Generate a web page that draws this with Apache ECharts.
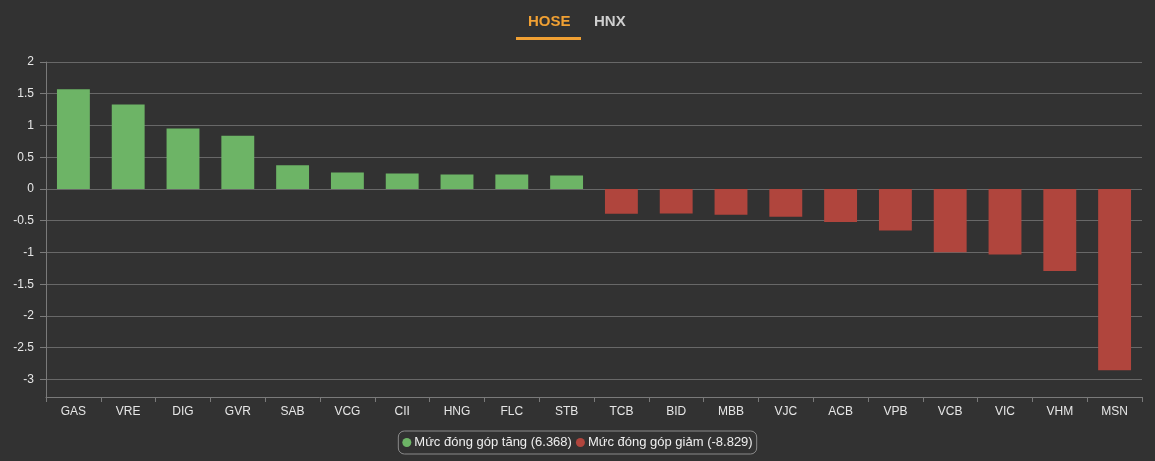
<!DOCTYPE html>
<html>
<head>
<meta charset="utf-8">
<script src="https://cdn.jsdelivr.net/npm/echarts@6/dist/echarts.min.js"></script>
<style>
html,body{margin:0;padding:0;background:#333333;}
#c{width:1155px;height:461px;}
</style>
</head>
<body>
<div id="c"></div>
<script>
var categories = ['GAS','VRE','DIG','GVR','SAB','VCG','CII','HNG','FLC','STB','TCB','BID','MBB','VJC','ACB','VPB','VCB','VIC','VHM','MSN'];
var upValues = [1.572,1.33,0.953,0.837,0.375,0.26,0.244,0.228,0.228,0.213,'-','-','-','-','-','-','-','-','-','-'];
var downValues = ['-','-','-','-','-','-','-','-','-','-',-0.39,-0.387,-0.405,-0.436,-0.52,-0.654,-0.995,-1.03,-1.29,-2.853];
var upName = 'Mức đóng góp tăng (6.368)';
var downName = 'Mức đóng góp giảm (-8.829)';
var tabs = ['HOSE','HNX'];
var yTicks = [2,1.5,1,0.5,0,-0.5,-1,-1.5,-2,-2.5,-3];

var chart = echarts.init(document.getElementById('c'));
var font = 'Liberation Sans, Arial, Helvetica, sans-serif';
chart.setOption({
  backgroundColor: '#323232',
  animation: false,
  textStyle: {fontFamily: font},
  graphic: [
    {type:'text', left: 528, top: 14, style:{text: tabs[0], fill:'#f0a033', font:'bold 15px ' + font}},
    {type:'text', left: 594, top: 14, style:{text: tabs[1], fill:'#cfcfcf', font:'bold 15px ' + font}},
    {type:'rect', left: 516, top: 37, shape:{width:65, height:3}, style:{fill:'#f0a033'}}
  ],
  legend: {
    bottom: 7,
    left: 'center',
    icon: 'circle',
    itemWidth: 9,
    itemHeight: 9,
    itemGap: 4,
    itemStyle: {borderWidth: 0},
    borderColor: '#8a8a8a',
    borderWidth: 1,
    borderRadius: 6,
    padding: [5, 4, 5, 4],
    textStyle: {color: '#eeeeee', fontSize: 13, fontFamily: font, padding: [0, 0, 0, -2]},
    data: [upName, downName]
  },
  grid: {left: 46, right: 13, top: 62, bottom: 64, containLabel: false},
  xAxis: {
    type: 'category',
    data: categories,
    axisLine: {onZero: false, lineStyle: {color: '#7a7a7a', width: 1}},
    axisTick: {show: true, length: 5, lineStyle: {color: '#7a7a7a'}},
    axisLabel: {color: '#e6e6e6', fontSize: 12, margin: 9, fontFamily: font, interval: 0},
    splitLine: {show: false}
  },
  yAxis: {
    type: 'value',
    min: -3.276,
    max: 2,
    splitNumber: 10,
    axisLine: {show: true, lineStyle: {color: '#7a7a7a'}},
    axisTick: {show: true, length: 6, customValues: yTicks, lineStyle: {color: '#7a7a7a'}},
    axisLabel: {
      color: '#e6e6e6', fontSize: 12, margin: 12, fontFamily: font,
      customValues: yTicks,
      formatter: function (v) {
        for (var i = 0; i < yTicks.length; i++) { if (Math.abs(yTicks[i] - v) < 1e-6) return String(yTicks[i]); }
        return '';
      }
    },
    splitLine: {show: true, lineStyle: {color: '#686868', width: 1}}
  },
  series: [
    {name: upName, type: 'bar', stack: 'all', data: upValues, barWidth: '60%',
     itemStyle: {color: '#6db466'}},
    {name: downName, type: 'bar', stack: 'all', data: downValues, barWidth: '60%',
     itemStyle: {color: '#b0453d'}}
  ]
});
</script>
</body>
</html>
